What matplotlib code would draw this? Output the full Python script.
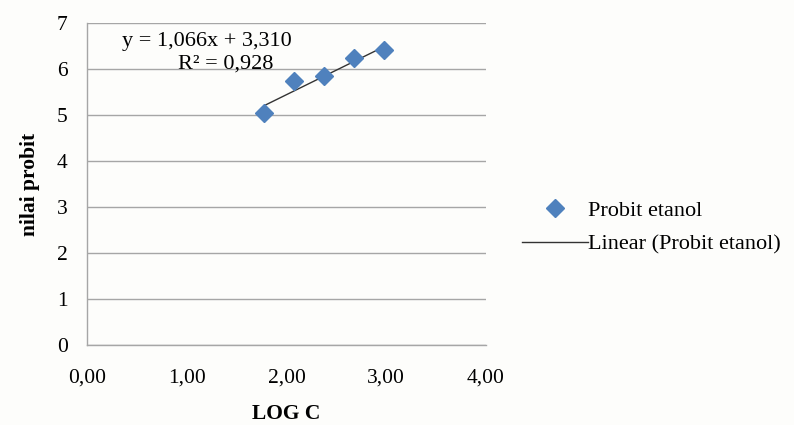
import matplotlib as mpl
import matplotlib.pyplot as plt
import numpy as np

# data
log_c = [1.778, 2.079, 2.380, 2.681, 2.982]
probit = [5.04, 5.74, 5.84, 6.23, 6.41]
slope = 1.066
intercept = 3.310
r_squared = 0.928
x_ticks = [0, 1, 2, 3, 4]
y_ticks = [0, 1, 2, 3, 4, 5, 6, 7]

mpl.rcParams.update({
    "font.family": ["Liberation Serif", "DejaVu Serif"],
    "font.size": 16,
})

BLUE = "#4F81BD"
GRID = "#a6a6a6"

fig = plt.figure(figsize=(7.94, 4.25), dpi=100, facecolor="#fdfdfb")
ax = fig.add_axes([0.1096, 0.188, 0.5025, 0.758])
ax.set_facecolor("#fdfdfb")

xs = np.array([min(log_c), max(log_c)])
line, = ax.plot(xs, slope * xs + intercept, color="#333333", linewidth=1.0,
                label="Linear (Probit etanol)", zorder=3)
pts, = ax.plot(log_c, probit, linestyle="none", marker="D", markersize=9,
               color=BLUE, label="Probit etanol", zorder=4)

ax.set_xlim(0, 4)
ax.set_ylim(0, 7)
ax.set_xticks(x_ticks)
ax.set_xticklabels([f"{v:.2f}".replace(".", ",") for v in x_ticks])
ax.set_yticks(y_ticks)
ax.tick_params(axis="both", length=0, labelsize=15.5)
ax.tick_params(axis="x", pad=17)
ax.tick_params(axis="y", pad=14)

ax.grid(True, axis="y", color=GRID, linewidth=1.0)
ax.set_axisbelow(True)
for side in ["top", "right"]:
    ax.spines[side].set_visible(False)
for side in ["left", "bottom"]:
    ax.spines[side].set_color(GRID)
    ax.spines[side].set_linewidth(1.0)

ax.set_ylabel("nilai probit", fontweight="bold", fontsize=15.5, labelpad=12)
ax.set_xlabel("LOG C", fontweight="bold", fontsize=15.5, labelpad=12)

eq = f"y = {slope:.3f}x + {intercept:.3f}".replace(".", ",")
r2 = f"R² = {r_squared:.3f}".replace(".", ",")
ax.text(1.20, 6.60, eq, ha="center", va="center", fontsize=16)
ax.text(1.39, 6.10, r2, ha="center", va="center", fontsize=16)

fig.legend([pts, line], ["Probit etanol", "Linear (Probit etanol)"],
           loc="center left", bbox_to_anchor=(0.632, 0.465), frameon=False,
           fontsize=16, handlelength=3.0, handletextpad=0.0, labelspacing=0.6)

fig.savefig("out.png", dpi=100, facecolor=fig.get_facecolor())
